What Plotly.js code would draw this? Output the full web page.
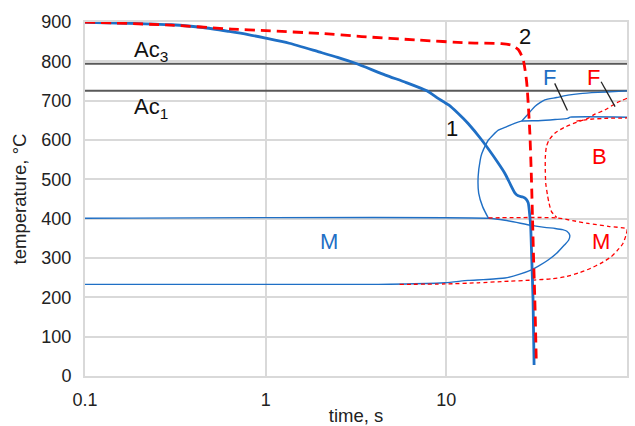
<!DOCTYPE html>
<html>
<head>
<meta charset="utf-8">
<script src="https://cdn.plot.ly/plotly-3.0.1.min.js"></script>
<style>html,body{margin:0;padding:0;background:#fff;}#chart{width:635px;height:426px;}</style>
</head>
<body>
<div id="chart"></div>
<script>
// Cooling curve 1 (solid blue) and 2 (dashed red)
const curve1Time = [0.1, 0.2, 0.3, 0.45, 0.628, 0.8, 1.0, 1.35, 1.97, 2.5, 3.14, 4.6, 6.0, 7.8, 9.0, 10.3, 11.6, 13.2, 15.7, 19.4, 21.1, 24.0, 25.0, 26.5, 27.6, 28.4, 29.0, 29.3, 29.7, 30.2, 30.6];
const curve1Temp = [899, 896, 893, 886, 876, 868, 859, 846, 824, 810, 795, 765, 746, 725, 706, 689, 668, 642, 600, 541, 515, 465, 458, 455, 450, 440, 405, 380, 300, 193, 28];
const curve2Time = [0.1, 0.3, 0.65, 1, 2, 3.4, 7, 13.2, 20.2, 23, 25, 26.6, 27.8, 28.5, 29.0, 29.6, 30.0, 30.4, 30.9, 31.5];
const curve2Temp = [900, 892, 882, 878, 871, 863, 854, 847, 845, 841, 830, 805, 750, 680, 617, 498, 400, 300, 193, 30];

// Critical temperatures
const acTime = [0.1, 100];
const ac3Temp = [794, 794];
const ac1Temp = [725, 725];

// Transformation lines for curve 1 (blue, thin)
const blueMTime = [0.1, 17.1, 21.1, 29.6, 35, 40, 44, 46.5, 48.2, 47.5, 45, 40.8, 36.6, 32.5, 29.6, 25.5, 21.1, 16, 13.2, 9.84, 6, 4.2, 0.1];
const blueMTemp = [401, 401, 396, 383, 378, 375, 372, 368, 358, 345, 333, 312, 295, 280, 270, 259, 249, 245, 243, 237, 234, 233, 233];
const blueFBTime = [17.1, 15.9, 15.1, 15.0, 15.4, 15.7, 16.7, 17.1, 19.4, 21.1, 23.5, 26.1, 32.2, 40, 47, 48.5, 100];
const blueFBTemp = [401, 430, 465, 507, 549, 565, 592, 600, 625, 632, 641, 648, 649, 652, 655, 658, 658];
const blueFTime = [26.1, 28, 29.6, 31, 33, 35.1, 40.8, 47.1, 55, 69, 85, 100];
const blueFTemp = [648, 663, 676, 686, 695, 702, 708, 714, 718, 721, 723, 725];

// Transformation lines for curve 2 (red, thin dashed)
const redBTime = [100, 88, 75.2, 66, 60.8, 52.5, 45, 40, 37, 35.8, 35.3, 35.3, 35.5, 36.3, 37, 38.2, 40.8];
const redBTemp = [706, 695, 676, 665, 655, 645, 632, 618, 600, 583, 555, 520, 490, 460, 440, 418, 403];
const redMTime = [17.1, 40.8, 50, 60.8, 80, 100, 99, 95, 88, 81.6, 72, 63, 55, 45.2, 38, 30.6, 20.2, 15, 9.84, 5.45];
const redMTemp = [402, 402, 395, 388, 380, 374, 360, 337, 318, 303, 287, 274, 263, 252, 247, 244, 240, 237, 234, 233];
const redFTime = [52.5, 60, 75, 100];
const redFTemp = [648, 652, 655, 656];

// Leader lines for the F labels
const leaderBlueTime = [39.8, 46.8];
const leaderBlueTemp = [744, 675];
const leaderRedTime = [71.9, 85.9];
const leaderRedTemp = [748, 685];

const tickVals = [0.1, 1, 10, 100];
const tickText = ['0.1', '1', '10', '100'];

const BLUE = '#1f6fc5';
const RED = '#ff0000';
const FONT = '"Liberation Sans", Arial, sans-serif';

function line(x, y, color, width, dash) {
  return {x: x, y: y, type: 'scatter', mode: 'lines', hoverinfo: 'skip',
          line: {color: color, width: width, dash: dash || 'solid', shape: 'spline', smoothing: 0.6}};
}
function straight(x, y, color, width) {
  return {x: x, y: y, type: 'scatter', mode: 'lines', hoverinfo: 'skip',
          line: {color: color, width: width}};
}

const traces = [
  straight(acTime, ac3Temp, '#595959', 2),
  straight(acTime, ac1Temp, '#595959', 2),
  line(blueMTime, blueMTemp, BLUE, 1.4),
  line(blueFBTime, blueFBTemp, BLUE, 1.4),
  line(blueFTime, blueFTemp, BLUE, 1.4),
  line(redBTime, redBTemp, RED, 1.3, '4px,3px'),
  line(redMTime, redMTemp, RED, 1.3, '4px,3px'),
  line(redFTime, redFTemp, RED, 1.3, '4px,3px'),
  straight(leaderBlueTime, leaderBlueTemp, '#222', 1.3),
  straight(leaderRedTime, leaderRedTemp, '#222', 1.3),
  line(curve1Time, curve1Temp, BLUE, 2.8),
  line(curve2Time, curve2Temp, RED, 2.8, '10px,6px')
];

function ann(text, t, y, color, size, xanchor) {
  return {x: Math.log10(t), y: y, xref: 'x', yref: 'y', text: text, showarrow: false,
          xanchor: xanchor || 'center', yanchor: 'middle',
          font: {family: FONT, size: size || 22, color: color}};
}

const layout = {
  width: 635, height: 426,
  margin: {l: 85, r: 8, t: 22, b: 50},
  paper_bgcolor: '#fff', plot_bgcolor: '#fff',
  showlegend: false, hovermode: false,
  font: {family: FONT, color: '#222'},
  xaxis: {
    type: 'log', range: [-1, 2], tickvals: tickVals, ticktext: tickText,
    gridcolor: '#d9d9d9', gridwidth: 2, showline: true, mirror: true,
    linecolor: '#d9d9d9', linewidth: 2, ticks: '', ticklabelstandoff: 6,
    tickfont: {size: 18, color: '#222'},
    title: {text: 'time, s', font: {size: 18.5, color: '#222'}, standoff: 2}
  },
  yaxis: {
    range: [0, 900], dtick: 100, tick0: 0,
    gridcolor: '#d9d9d9', gridwidth: 2, showline: true, mirror: true,
    linecolor: '#d9d9d9', linewidth: 2, zeroline: false, ticks: '', ticklabelstandoff: 8,
    tickfont: {size: 18, color: '#222'},
    title: {text: 'temperature, °C', font: {size: 18.5, color: '#222'}, standoff: 10}
  },
  annotations: [
    ann('Ac<sub>3</sub>', 0.183, 826, '#111', 22, 'left'),
    ann('Ac<sub>1</sub>', 0.183, 681, '#111', 22, 'left'),
    ann('1', 10.7, 629, '#111', 22),
    ann('2', 27.3, 863, '#111', 22),
    ann('F', 37.2, 760, BLUE, 22),
    ann('F', 65.6, 760, RED, 22),
    ann('B', 70.8, 559, RED, 22),
    ann('M', 2.24, 341, BLUE, 22),
    ann('M', 71.6, 341, RED, 22)
  ]
};

Plotly.newPlot('chart', traces, layout, {displayModeBar: false, staticPlot: true});
</script>
</body>
</html>
